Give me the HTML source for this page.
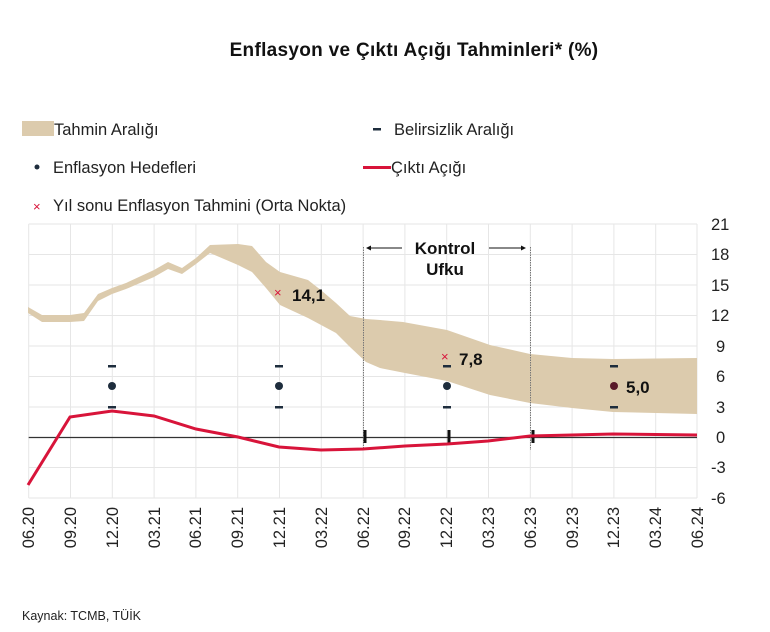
<!DOCTYPE html>
<html><head><meta charset="utf-8"><style>
body{margin:0;background:#fff;width:770px;height:632px;overflow:hidden}
svg{display:block;font-family:"Liberation Sans","DejaVu Sans",sans-serif}
</style></head><body>
<svg width="770" height="632" viewBox="0 0 770 632">
<text x="414" y="56" text-anchor="middle" font-size="19" font-weight="bold" fill="#111" letter-spacing="0.3">Enflasyon ve Çıktı Açığı Tahminleri* (%)</text>
<g font-size="16.5" fill="#222">
<rect x="22" y="121" width="32" height="15" fill="#dccbad"/>
<text x="54" y="135">Tahmin Aralığı</text>
<rect x="373" y="128" width="8" height="2.5" fill="#1e2d3d"/>
<text x="394" y="135">Belirsizlik Aralığı</text>
<circle cx="37" cy="167" r="2.5" fill="#1e2d3d"/>
<text x="53" y="173">Enflasyon Hedefleri</text>
<rect x="363" y="166" width="28" height="3" fill="#d8143a"/>
<text x="391" y="173">Çıktı Açığı</text>
<text x="33" y="211" fill="#d8143a" font-size="13">×</text>
<text x="53" y="211">Yıl sonu Enflasyon Tahmini (Orta Nokta)</text>
</g>
<g stroke="#e6e6e6" stroke-width="1">
<line x1="28.7" y1="224" x2="697" y2="224"/><line x1="28.7" y1="254.5" x2="697" y2="254.5"/><line x1="28.7" y1="285" x2="697" y2="285"/><line x1="28.7" y1="315.5" x2="697" y2="315.5"/><line x1="28.7" y1="346" x2="697" y2="346"/><line x1="28.7" y1="376.5" x2="697" y2="376.5"/><line x1="28.7" y1="407" x2="697" y2="407"/><line x1="28.7" y1="467.5" x2="697" y2="467.5"/><line x1="28.7" y1="498" x2="697" y2="498"/>
<line x1="28.7" y1="224" x2="28.7" y2="498"/><line x1="70.5" y1="224" x2="70.5" y2="498"/><line x1="112.3" y1="224" x2="112.3" y2="498"/><line x1="154.1" y1="224" x2="154.1" y2="498"/><line x1="195.9" y1="224" x2="195.9" y2="498"/><line x1="237.7" y1="224" x2="237.7" y2="498"/><line x1="279.5" y1="224" x2="279.5" y2="498"/><line x1="321.3" y1="224" x2="321.3" y2="498"/><line x1="363.1" y1="224" x2="363.1" y2="498"/><line x1="404.9" y1="224" x2="404.9" y2="498"/><line x1="446.7" y1="224" x2="446.7" y2="498"/><line x1="488.5" y1="224" x2="488.5" y2="498"/><line x1="530.3" y1="224" x2="530.3" y2="498"/><line x1="572.1" y1="224" x2="572.1" y2="498"/><line x1="613.9" y1="224" x2="613.9" y2="498"/><line x1="655.7" y1="224" x2="655.7" y2="498"/><line x1="697" y1="224" x2="697" y2="498"/>
</g>
<polygon fill="#dccbad" points="28,307 42,315 70,315 84,313 98,294 112,288 126,283 154,270 168,262 182,268 196,258 210,245 238,244 252,246 266,262 280,272 308,280 322,291 336,303 350,316 366,319 380,320 403,322 447,330 490,345 530,354 572,358 613,359 697,358 697,414 613,412 572,408 530,403 490,395 447,381 405,373 380,368 366,362 350,347 336,333 308,318 280,305 266,288 252,272 238,265 210,253 196,264 182,274 168,269 154,277 126,289 112,294 98,301 84,321 70,322 42,322 28,313"/>
<line x1="28.7" y1="437.5" x2="697" y2="437.5" stroke="#333" stroke-width="1.2"/>
<g stroke="#777" stroke-width="1" stroke-dasharray="1.5,1"><line x1="363.5" y1="247" x2="363.5" y2="450"/><line x1="530.5" y1="247" x2="530.5" y2="450"/></g>
<g stroke="#111" stroke-width="3"><line x1="365" y1="430" x2="365" y2="443"/><line x1="449" y1="430" x2="449" y2="443"/><line x1="533" y1="430" x2="533" y2="443"/></g>
<polyline fill="none" stroke="#d8143a" stroke-width="3" points="28,485 70,417 112,411 154,416 196,429 238,437 279,447 321,450 363,449 405,446 447,444 488,441 530,436 572,435 613,434 697,435"/>
<g fill="#1e2d3d">
<rect x="108" y="365" width="8" height="2.5"/><rect x="108" y="406" width="8" height="2.5"/><circle cx="112" cy="386" r="4"/>
<rect x="275" y="365" width="8" height="2.5"/><rect x="275" y="406" width="8" height="2.5"/><circle cx="279" cy="386" r="4"/>
<rect x="443" y="365" width="8" height="2.5"/><rect x="443" y="406" width="8" height="2.5"/><circle cx="447" cy="386" r="4"/>
<rect x="610" y="365" width="8" height="2.5"/><rect x="610" y="406" width="8" height="2.5"/><circle cx="614" cy="386" r="4" fill="#5a1a2a"/>
</g>
<g fill="#d8143a" font-size="13"><text x="274" y="297">×</text><text x="441" y="361">×</text></g>
<g font-size="17" font-weight="bold" fill="#111">
<text x="292" y="301">14,1</text><text x="459" y="365">7,8</text><text x="626" y="393">5,0</text>
<text x="445" y="254" text-anchor="middle">Kontrol</text><text x="445" y="275" text-anchor="middle">Ufku</text>
</g>
<g stroke="#111" stroke-width="1"><line x1="368" y1="248" x2="402" y2="248"/><line x1="489" y1="248" x2="522" y2="248"/></g>
<polygon points="366,248 371,245.5 371,250.5" fill="#111"/><polygon points="526,248 521,245.5 521,250.5" fill="#111"/>
<g font-size="16.5" fill="#222">
<text x="711" y="230">21</text><text x="711" y="260">18</text><text x="711" y="291">15</text><text x="711" y="321">12</text><text x="716" y="352">9</text><text x="716" y="382">6</text><text x="716" y="413">3</text><text x="716" y="443">0</text><text x="711" y="473">-3</text><text x="711" y="504">-6</text>
</g>
<g font-size="16.5" fill="#222" text-anchor="end">
<text transform="translate(34,507) rotate(-90)">06.20</text>
<text transform="translate(76,507) rotate(-90)">09.20</text>
<text transform="translate(118,507) rotate(-90)">12.20</text>
<text transform="translate(160,507) rotate(-90)">03.21</text>
<text transform="translate(201,507) rotate(-90)">06.21</text>
<text transform="translate(243,507) rotate(-90)">09.21</text>
<text transform="translate(285,507) rotate(-90)">12.21</text>
<text transform="translate(327,507) rotate(-90)">03.22</text>
<text transform="translate(369,507) rotate(-90)">06.22</text>
<text transform="translate(410,507) rotate(-90)">09.22</text>
<text transform="translate(452,507) rotate(-90)">12.22</text>
<text transform="translate(494,507) rotate(-90)">03.23</text>
<text transform="translate(536,507) rotate(-90)">06.23</text>
<text transform="translate(578,507) rotate(-90)">09.23</text>
<text transform="translate(619,507) rotate(-90)">12.23</text>
<text transform="translate(661,507) rotate(-90)">03.24</text>
<text transform="translate(703,507) rotate(-90)">06.24</text>
</g>
<text x="22" y="620" font-size="12.5" fill="#222">Kaynak: TCMB, TÜİK</text>
</svg>
</body></html>
